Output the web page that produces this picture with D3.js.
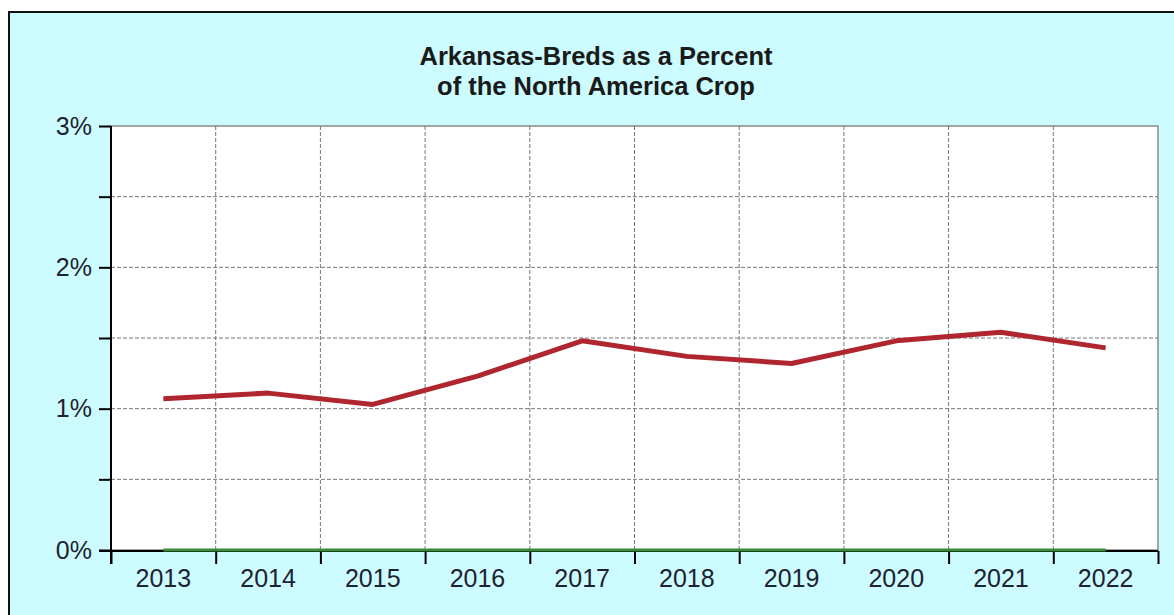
<!DOCTYPE html>
<html><head><meta charset="utf-8">
<script src="https://cdn.jsdelivr.net/npm/d3@7"></script>
<style>
html,body{margin:0;padding:0;background:#fff;overflow:hidden;}
svg{display:block;font-family:"Liberation Sans",Arial,sans-serif;}
</style></head>
<body>
<svg id="c" width="1174" height="615"></svg>
<script>
const years = ["2013","2014","2015","2016","2017","2018","2019","2020","2021","2022"];
const arkansasPct = [1.07, 1.11, 1.03, 1.23, 1.48, 1.37, 1.32, 1.48, 1.54, 1.43];
const baselinePct = [0, 0, 0, 0, 0, 0, 0, 0, 0, 0];
const yTicks = [0, 0.5, 1, 1.5, 2, 2.5, 3];
const yLabels = {0:"0%", 1:"1%", 2:"2%", 3:"3%"};
const titleLines = ["Arkansas-Breds as a Percent", "of the North America Crop"];

const svg = d3.select("#c");
const L = 111, R = 1158, T = 126, B = 550;

// frame
svg.append("rect").attr("x",9).attr("y",12).attr("width",1200).attr("height",640)
  .attr("fill","#ccfcff").attr("stroke","#111").attr("stroke-width",2);

// plot area
svg.append("rect").attr("x",L).attr("y",T).attr("width",R-L).attr("height",B-T)
  .attr("fill","#ffffff").attr("stroke","#8a8a8a").attr("stroke-width",1.5);

const x = d3.scaleBand().domain(years).range([L,R]).padding(0);
const xb = d3.scaleLinear().domain([0, years.length]).range([L,R]);
const y = d3.scaleLinear().domain([0,3]).range([B,T]);
const cx = d => x(d) + x.bandwidth()/2;

// grid
const g = svg.append("g");
g.selectAll(".hg").data(yTicks.filter(v => v>0 && v<3)).join("line")
  .attr("x1",L).attr("x2",R).attr("y1",d=>y(d)).attr("y2",d=>y(d))
  .attr("stroke","#777").attr("stroke-width",1).attr("stroke-dasharray","4,2");
g.selectAll(".vg").data(d3.range(1, years.length)).join("line")
  .attr("x1",d=>xb(d)).attr("x2",d=>xb(d)).attr("y1",T).attr("y2",B)
  .attr("stroke","#777").attr("stroke-width",1).attr("stroke-dasharray","4,2");

// y axis
const ya = svg.append("g").attr("transform",`translate(${L},0)`)
  .call(d3.axisLeft(y).tickValues(yTicks).tickSize(12).tickPadding(7)
    .tickFormat(d => yLabels[d] || ""));
ya.select(".domain").attr("stroke","#000").attr("stroke-width",2)
  .attr("d",`M0,${T}V${B+14}`);
ya.selectAll(".tick line").attr("stroke","#000").attr("stroke-width",2);
ya.selectAll(".tick text").attr("font-size",25).attr("fill","#1f2230")
  .attr("font-family","'Liberation Sans',Arial,sans-serif");

// x axis ticks (band boundaries)
const xa = svg.append("g").attr("transform",`translate(0,${B+1})`)
  .call(d3.axisBottom(xb).tickValues(d3.range(0, years.length+1)).tickSize(13).tickFormat(""));
xa.select(".domain").attr("stroke","#000").attr("stroke-width",2).attr("d",`M${L-12},0H${R}`);
xa.selectAll(".tick line").attr("stroke","#000").attr("stroke-width",2);

// x labels
const xl = svg.append("g").attr("transform",`translate(0,${B})`)
  .call(d3.axisBottom(x).tickSize(0).tickPadding(19));
xl.select(".domain").remove();
xl.selectAll(".tick text").attr("font-size",25).attr("fill","#1f2230")
  .attr("font-family","'Liberation Sans',Arial,sans-serif");

// lines (drawn above axes)
const line = d3.line().x((d,i)=>cx(years[i])).y(d=>y(d));
svg.append("path").datum(baselinePct).attr("d",line).attr("fill","none")
  .attr("stroke","#3a8a3a").attr("stroke-width",3);
svg.append("path").datum(arkansasPct).attr("d",line).attr("fill","none")
  .attr("stroke","#b0262e").attr("stroke-width",5).attr("stroke-linejoin","round");

// title
svg.append("text").attr("x",596).attr("y",65).attr("text-anchor","middle")
  .attr("font-size",25.5).attr("font-weight","bold").attr("fill","#1a1a1a")
  .selectAll("tspan").data(titleLines).join("tspan")
  .attr("x",596).attr("dy",(d,i)=> i===0 ? 0 : 29.5).text(d=>d);
</script>
</body></html>
